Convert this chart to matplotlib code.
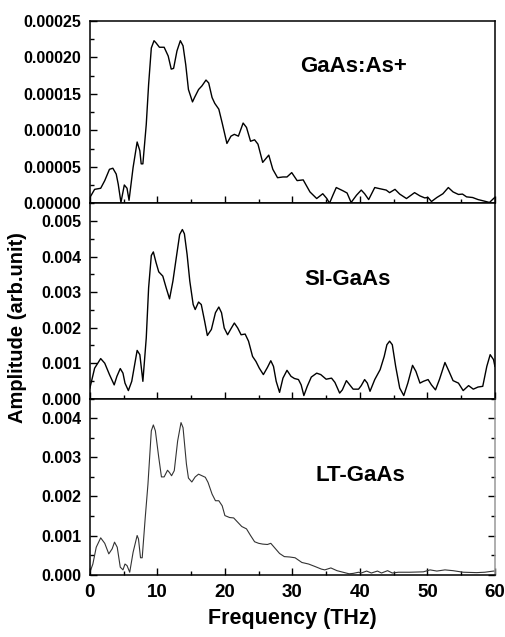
import matplotlib
matplotlib.use("Agg")
import matplotlib.pyplot as plt
from matplotlib.ticker import MultipleLocator, FormatStrFormatter

plt.rcParams["font.family"] = ["Liberation Sans", "DejaVu Sans"]
plt.rcParams["font.weight"] = "bold"

# GaAs:As+ (top panel), amplitude in units of 1e-5
f_top = [0, 0.7, 1.6, 2.2, 2.9, 3.4, 3.9, 4.2, 4.6, 5.1, 5.5, 5.8, 6.4, 7.0, 7.4,
         7.6, 7.85, 8.35, 8.7, 9.1, 9.5, 9.8, 10.3, 11.0, 11.6, 12.05, 12.4, 12.9,
         13.4, 13.8, 14.2, 14.6, 15.2, 15.5, 16.1, 16.6, 17.2, 17.6, 18.1, 18.5,
         19.1, 19.6, 20.3, 20.9, 21.4, 22.0, 22.7, 23.2, 23.8, 24.4, 24.9, 25.6,
         26.5, 27.1, 27.8, 28.6, 29.2, 29.9, 30.7, 31.6, 32.6, 33.6, 34.5, 35.1,
         35.5, 36.0, 36.5, 37.5, 38.1, 38.7, 39.5, 40.2, 40.7, 41.3, 42.2, 42.9,
         43.9, 44.4, 45.2, 45.9, 46.9, 48.1, 48.9, 49.6, 50.1, 50.6, 51.4, 52.3,
         53.1, 53.8, 54.6, 55.2, 55.8, 56.7, 57.5, 58.5, 59.2, 59.8, 60]
a_top = [0.78, 1.9, 2.05, 3.1, 4.65, 4.8, 4.0, 2.6, 0.1, 2.5, 2.05, 0.4, 4.9, 8.4, 7.2,
         5.4, 5.4, 10.8, 16.3, 21.3, 22.3, 22.0, 21.4, 21.4, 20.2, 18.4, 18.5, 20.9,
         22.3, 21.6, 19.0, 15.6, 13.9, 14.5, 15.6, 16.1, 16.9, 16.5, 14.5, 13.7,
         12.9, 11.0, 8.2, 9.2, 9.45, 9.2, 11.0, 10.4, 8.5, 8.7, 8.1, 5.6,
         6.6, 4.65, 3.5, 3.6, 3.6, 4.2, 3.1, 3.2, 1.55, 0.64, 1.3, 0.64,
         0.0, 1.1, 2.15, 1.7, 1.4, 0.1, 1.1, 1.8, 1.3, 0.5, 2.15, 2.0,
         1.8, 1.45, 1.9, 1.25, 0.64, 1.45, 1.0, 0.73, 0.78, 0.23, 0.78, 1.3,
         2.15, 1.55, 1.2, 1.25, 0.87, 0.78, 0.5, 0.27, 0.1, 0.64, 0.8]

# SI-GaAs (middle panel), amplitude in units of 1e-3
f_mid = [0, 0.7, 1.6, 2.2, 2.9, 3.6, 4.0, 4.5, 4.9, 5.2, 5.7, 6.2, 7.0, 7.4, 7.85,
         8.35, 8.7, 9.1, 9.4, 9.8, 10.2, 10.8, 11.3, 11.8, 12.3, 12.8, 13.3, 13.7,
         14.0, 14.4, 14.8, 15.3, 15.6, 16.1, 16.5, 17.0, 17.4, 18.0, 18.6, 19.1,
         19.5, 19.9, 20.4, 20.9, 21.4, 21.9, 22.4, 23.0, 23.5, 24.1, 24.6, 25.1,
         25.7, 26.3, 26.8, 27.2, 27.6, 28.1, 28.6, 29.2, 29.8, 30.3, 30.9, 31.3,
         31.7, 32.2, 32.8, 33.6, 34.2, 35.0, 35.8, 36.3, 37.0, 37.4, 38.0, 38.5,
         39.0, 39.8, 40.2, 40.7, 41.1, 41.5, 42.2, 43.0, 43.6, 44.0, 44.4, 44.8,
         45.3, 45.9, 46.5, 47.1, 47.8, 48.3, 48.9, 49.4, 50.1, 50.6, 51.2, 51.8,
         52.6, 53.2, 53.8, 54.6, 55.3, 56.1, 56.8, 57.5, 58.2, 58.8, 59.3, 59.8, 60]
a_mid = [0.30, 0.86, 1.13, 1.0, 0.68, 0.39, 0.63, 0.85, 0.72, 0.44, 0.23, 0.49, 1.36, 1.24, 0.49,
         1.71, 3.12, 4.03, 4.13, 3.83, 3.57, 3.45, 3.12, 2.81, 3.31, 3.97, 4.62, 4.76,
         4.64, 4.06, 3.31, 2.65, 2.51, 2.72, 2.65, 2.18, 1.78, 1.95, 2.42, 2.58,
         2.42, 1.99, 1.80, 1.97, 2.13, 1.99, 1.80, 1.82, 1.62, 1.19, 1.05, 0.86,
         0.68, 0.88, 1.07, 0.91, 0.49, 0.18, 0.58, 0.80, 0.63, 0.57, 0.54, 0.39,
         0.09, 0.35, 0.61, 0.72, 0.68, 0.55, 0.58, 0.46, 0.16, 0.25, 0.51, 0.39,
         0.27, 0.27, 0.37, 0.54, 0.44, 0.21, 0.54, 0.82, 1.19, 1.52, 1.62, 1.52,
         0.91, 0.30, 0.09, 0.44, 0.94, 0.77, 0.44, 0.49, 0.54, 0.39, 0.25, 0.55,
         1.02, 0.77, 0.51, 0.44, 0.23, 0.37, 0.27, 0.33, 0.35, 0.91, 1.24, 1.10, 0.91]

# LT-GaAs (bottom panel), amplitude in units of 1e-3
f_bot = [0, 0.44, 0.94, 1.6, 2.2, 2.8, 3.3, 3.65, 4.05, 4.5, 4.9, 5.2, 5.5, 5.9, 6.4,
         7.0, 7.2, 7.5, 7.75, 8.2, 8.6, 9.1, 9.4, 9.7, 10.2, 10.6, 11.0, 11.5, 11.8,
         12.1, 12.5, 13.0, 13.5, 13.8, 14.3, 14.6, 15.1, 15.6, 16.1, 16.6, 17.1,
         17.5, 18.1, 18.6, 19.1, 19.6, 20.0, 20.7, 21.3, 21.9, 22.5, 23.2, 23.8,
         24.4, 25.0, 25.6, 26.3, 26.8, 27.4, 28.1, 28.8, 29.6, 30.4, 31.4, 32.4,
         33.3, 34.3, 34.8, 35.7, 36.6, 37.5, 38.4, 39.0, 39.8, 40.2, 41.0, 41.7,
         42.6, 43.2, 44.1, 44.8, 45.7, 47.4, 49.4, 50.4, 51.4, 52.6, 53.8, 55.3,
         57.3, 58.5, 59.8, 60]
a_bot = [0.06, 0.27, 0.70, 0.94, 0.80, 0.53, 0.66, 0.83, 0.70, 0.19, 0.12, 0.27, 0.23, 0.06, 0.57,
         1.0, 0.91, 0.43, 0.43, 1.46, 2.31, 3.68, 3.83, 3.68, 3.0, 2.50, 2.50, 2.67, 2.61,
         2.53, 2.66, 3.42, 3.89, 3.76, 2.83, 2.47, 2.37, 2.50, 2.57, 2.53, 2.49,
         2.36, 2.06, 1.89, 1.89, 1.76, 1.51, 1.46, 1.45, 1.34, 1.23, 1.17, 1.0,
         0.84, 0.80, 0.78, 0.77, 0.80, 0.68, 0.54, 0.46, 0.45, 0.43, 0.31, 0.27,
         0.21, 0.14, 0.12, 0.17, 0.10, 0.06, 0.02, 0.03, 0.06, 0.04, 0.09, 0.04,
         0.09, 0.04, 0.10, 0.04, 0.06, 0.06, 0.07, 0.12, 0.09, 0.12, 0.10, 0.06,
         0.05, 0.06, 0.09, 0.09]

labels = ["GaAs:As+", "SI-GaAs", "LT-GaAs"]
xticks = [0, 10, 20, 30, 40, 50, 60]

fig = plt.figure(figsize=(5.05, 6.37), dpi=100)
ax1 = fig.add_axes([0.178, 0.681, 0.802, 0.286])
ax2 = fig.add_axes([0.178, 0.374, 0.802, 0.307], sharex=ax1)
ax3 = fig.add_axes([0.178, 0.098, 0.802, 0.276], sharex=ax1)

ax1.plot(f_top, [v * 1e-5 for v in a_top], color="black", lw=1.0)
ax2.plot(f_mid, [v * 1e-3 for v in a_mid], color="black", lw=1.0)
ax3.plot(f_bot, [v * 1e-3 for v in a_bot], color="#333333", lw=0.8)

ax1.set_ylim(0, 0.00025)
ax1.yaxis.set_major_locator(MultipleLocator(0.00005))
ax1.yaxis.set_minor_locator(MultipleLocator(0.000025))
ax1.yaxis.set_major_formatter(FormatStrFormatter("%.5f"))

ax2.set_ylim(0, 0.0055)
ax2.yaxis.set_major_locator(MultipleLocator(0.001))
ax2.yaxis.set_minor_locator(MultipleLocator(0.0005))
ax2.yaxis.set_major_formatter(FormatStrFormatter("%.3f"))

ax3.set_ylim(0, 0.0045)
ax3.yaxis.set_major_locator(MultipleLocator(0.001))
ax3.yaxis.set_minor_locator(MultipleLocator(0.0005))
ax3.yaxis.set_major_formatter(FormatStrFormatter("%.3f"))

ax3.set_xlim(0, 60)
ax3.set_xticks(xticks)
ax3.xaxis.set_minor_locator(MultipleLocator(5))

for ax in (ax1, ax2, ax3):
    ax.tick_params(which="both", direction="in", top=False, right=False)
    ax.tick_params(which="major", length=5, width=1, labelsize=11.5, pad=6)
    ax.tick_params(which="minor", length=3, width=1)
    for s in ax.spines.values():
        s.set_linewidth(1.1)
for ax in (ax1, ax2):
    ax.tick_params(axis="x", labelbottom=False)

ax3.tick_params(axis="x", labelsize=13.5, pad=7)
ax3.tick_params(axis="y", which="both", right=True)
ax3.spines["right"].set_color("#999999")

ax1.text(39, 0.000187, labels[0], ha="center", va="center", fontsize=16, fontweight="bold")
ax2.text(38.2, 0.00335, labels[1], ha="center", va="center", fontsize=16, fontweight="bold")
ax3.text(40.1, 0.00253, labels[2], ha="center", va="center", fontsize=16, fontweight="bold")

ax3.set_xlabel("Frequency (THz)", fontsize=15.5, fontweight="bold", labelpad=5)
fig.text(0.034, 0.485, "Amplitude (arb.unit)", rotation=90, ha="center", va="center",
         fontsize=14.5, fontweight="bold")

fig.savefig("out.png", dpi=100)
